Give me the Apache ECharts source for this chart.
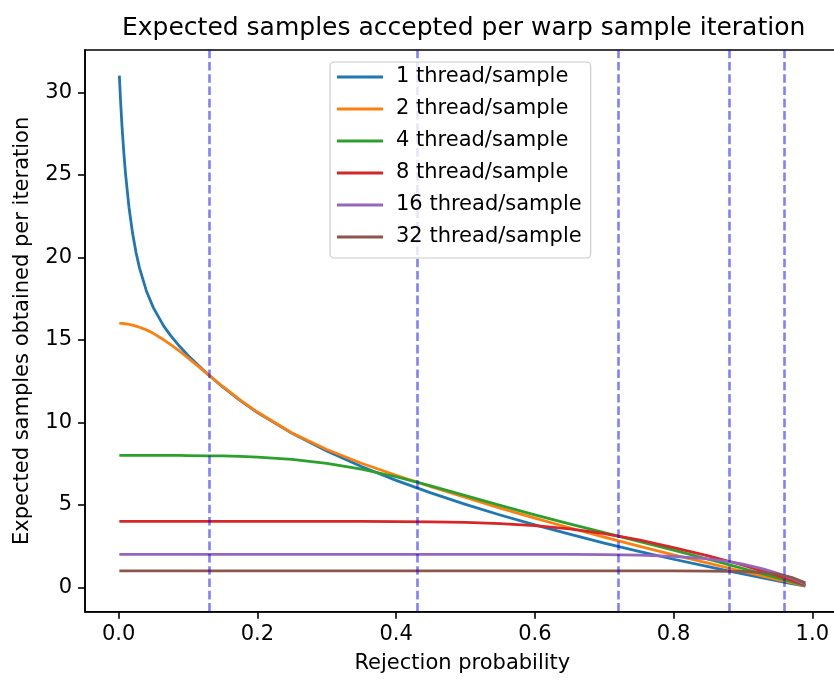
<!DOCTYPE html>
<html>
<head>
<meta charset="utf-8">
<script src="https://cdn.jsdelivr.net/npm/echarts@6/dist/echarts.min.js"></script>
<style>html,body{margin:0;padding:0;background:#fff}#c{width:834px;height:680px}</style>
</head>
<body>
<div id="c"></div>
<script>
// Rejection probability (x) sample positions
const rejectionProb = [0.001, 0.003, 0.005, 0.0075, 0.01, 0.015, 0.02, 0.025, 0.03, 0.04,
  0.05, 0.065, 0.075, 0.0875, 0.1, 0.128, 0.15, 0.175, 0.2, 0.25,
  0.3, 0.35, 0.4, 0.45, 0.5, 0.55, 0.6, 0.65, 0.7, 0.75,
  0.8, 0.85, 0.882, 0.9, 0.93, 0.95, 0.97, 0.99];

const thread1 = [31.02, 29.31, 27.85, 26.32, 25.04, 23.01, 21.49, 20.31, 19.37, 17.97,
  16.96, 15.84, 15.26, 14.63, 14.06, 12.94, 12.15, 11.34, 10.60, 9.34,
  8.27, 7.33, 6.49, 5.73, 5.04, 4.39, 3.79, 3.23, 2.69, 2.19,
  1.71, 1.26, 0.98, 0.82, 0.57, 0.40, 0.24, 0.08];
const thread2 = [16.00, 16.00, 16.00, 15.99, 15.97, 15.94, 15.90, 15.84, 15.77, 15.61,
  15.40, 15.01, 14.72, 14.33, 13.91, 12.94, 12.18, 11.37, 10.63, 9.36,
  8.36, 7.53, 6.80, 6.11, 5.45, 4.81, 4.20, 3.62, 3.05, 2.51,
  1.98, 1.47, 1.15, 0.97, 0.67, 0.48, 0.29, 0.10];
const thread4 = [8.00, 8.00, 8.00, 8.00, 8.00, 8.00, 8.00, 8.00, 8.00, 8.00,
  8.00, 8.00, 8.00, 8.00, 7.99, 7.98, 7.97, 7.94, 7.90, 7.76,
  7.52, 7.17, 6.71, 6.16, 5.57, 4.98, 4.40, 3.86, 3.33, 2.80,
  2.26, 1.71, 1.35, 1.15, 0.81, 0.58, 0.35, 0.12];
const thread8 = [4.00, 4.00, 4.00, 4.00, 4.00, 4.00, 4.00, 4.00, 4.00, 4.00,
  4.00, 4.00, 4.00, 4.00, 4.00, 4.00, 4.00, 4.00, 4.00, 4.00,
  4.00, 4.00, 3.99, 3.97, 3.94, 3.87, 3.75, 3.55, 3.26, 2.88,
  2.42, 1.91, 1.56, 1.35, 0.98, 0.72, 0.44, 0.15];
const thread16 = [2.00, 2.00, 2.00, 2.00, 2.00, 2.00, 2.00, 2.00, 2.00, 2.00,
  2.00, 2.00, 2.00, 2.00, 2.00, 2.00, 2.00, 2.00, 2.00, 2.00,
  2.00, 2.00, 2.00, 2.00, 2.00, 2.00, 2.00, 2.00, 1.99, 1.96,
  1.89, 1.73, 1.55, 1.41, 1.11, 0.86, 0.56, 0.20];
const thread32 = [1.00, 1.00, 1.00, 1.00, 1.00, 1.00, 1.00, 1.00, 1.00, 1.00,
  1.00, 1.00, 1.00, 1.00, 1.00, 1.00, 1.00, 1.00, 1.00, 1.00,
  1.00, 1.00, 1.00, 1.00, 1.00, 1.00, 1.00, 1.00, 1.00, 1.00,
  1.00, 0.99, 0.98, 0.97, 0.90, 0.81, 0.62, 0.28];

const seriesNames = ['1 thread/sample', '2 thread/sample', '4 thread/sample',
  '8 thread/sample', '16 thread/sample', '32 thread/sample'];
const seriesValues = [thread1, thread2, thread4, thread8, thread16, thread32];
const seriesColors = ['#1f77b4', '#ff7f0e', '#2ca02c', '#d62728', '#9467bd', '#8c564b'];

// crossover positions (vertical dashed lines)
const crossoverX = [0.128, 0.426, 0.716, 0.882, 0.957];

const xTicks = [0, 0.2, 0.4, 0.6, 0.8, 1.0];
const yTicks = [0, 5, 10, 15, 20, 25, 30];

const FONT = 'DejaVu Sans';
const chart = echarts.init(document.getElementById('c'), null, {renderer: 'canvas'});

const lineSeries = seriesNames.map((name, i) => ({
  name: name,
  type: 'line',
  data: rejectionProb.map((p, j) => [p, seriesValues[i][j]]),
  showSymbol: false,
  symbol: 'none',
  smooth: false,
  sampling: null,
  lineStyle: {color: seriesColors[i], width: 2.8, join: 'round', cap: 'butt'},
  itemStyle: {color: seriesColors[i]},
  emphasis: {disabled: true},
  z: 2
}));

lineSeries.push({
  type: 'line',
  data: [],
  z: 3,
  silent: true,
  markLine: {
    silent: true,
    symbol: ['none', 'none'],
    label: {show: false},
    animation: false,
    lineStyle: {color: 'rgba(0,0,255,0.5)', width: 2.6, type: [8.6, 3.7]},
    data: crossoverX.map(x => ({xAxis: x}))
  }
});

chart.setOption({
  animation: false,
  backgroundColor: '#fff',
  title: {
    text: 'Expected samples accepted per warp sample iteration',
    left: 117, top: 11,
    textStyle: {fontFamily: FONT, fontSize: 25, fontWeight: 'normal', color: '#000'}
  },
  legend: {
    data: seriesNames,
    orient: 'vertical',
    left: 330, top: 62,
    icon: 'rect',
    itemWidth: 46, itemHeight: 3,
    itemGap: 10,
    padding: [4, 9, 10, 7],
    backgroundColor: 'rgba(255,255,255,0.8)',
    borderColor: '#cccccc', borderWidth: 1.2, borderRadius: 4,
    textStyle: {fontFamily: FONT, fontSize: 21, color: '#000', lineHeight: 22, padding: [0, 0, 0, 8]},
    z: 10
  },
  grid: {
    left: 85, top: 50, width: 754.7, height: 561.7,
    outerBoundsMode: 'none',
    containLabel: false,
    show: true, borderColor: '#000', borderWidth: 1.6, backgroundColor: 'transparent'
  },
  xAxis: {
    type: 'value',
    min: -0.0485, max: 1.0395,
    name: 'Rejection probability',
    nameLocation: 'middle', nameGap: 41,
    nameTextStyle: {fontFamily: FONT, fontSize: 21, color: '#000'},
    axisLine: {show: true, onZero: false, lineStyle: {color: '#000', width: 1.6}},
    axisTick: {show: true, inside: false, length: 7, customValues: xTicks, lineStyle: {color: '#000', width: 1.6}},
    axisLabel: {show: true, customValues: xTicks, margin: 12, fontFamily: FONT, fontSize: 21, color: '#000',
      formatter: v => Number(v).toFixed(1)},
    splitLine: {show: false}
  },
  yAxis: {
    type: 'value',
    min: -1.468, max: 32.57,
    name: 'Expected samples obtained per iteration',
    nameLocation: 'middle', nameGap: 52,
    nameRotate: 90,
    nameTextStyle: {fontFamily: FONT, fontSize: 21, color: '#000'},
    axisLine: {show: true, onZero: false, lineStyle: {color: '#000', width: 1.6}},
    axisTick: {show: true, inside: false, length: 7, customValues: yTicks, lineStyle: {color: '#000', width: 1.6}},
    axisLabel: {show: true, customValues: yTicks, margin: 13, fontFamily: FONT, fontSize: 21, color: '#000',
      formatter: v => String(Math.round(v))},
    splitLine: {show: false}
  },
  series: lineSeries
});
</script>
</body>
</html>
